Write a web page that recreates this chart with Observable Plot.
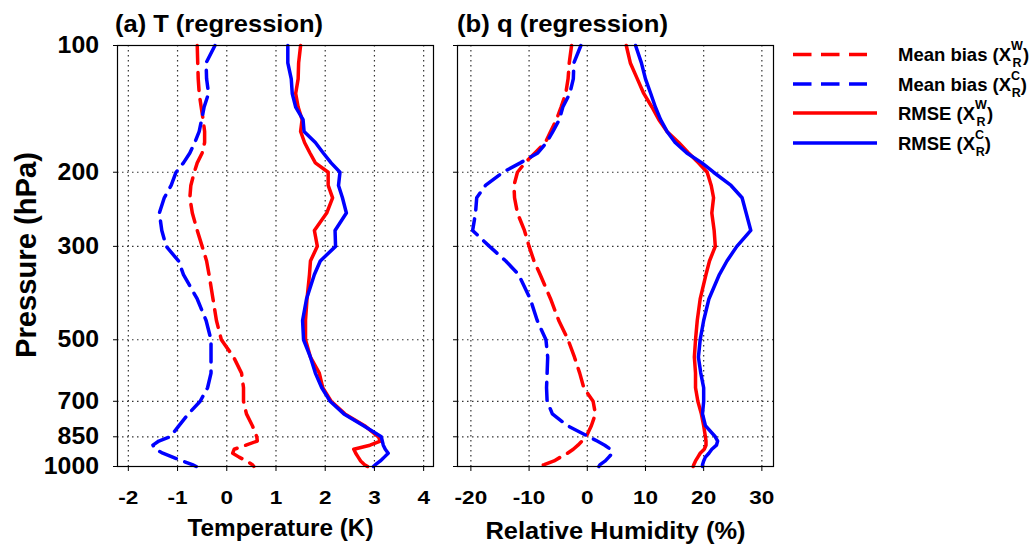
<!DOCTYPE html>
<html><head><meta charset="utf-8">
<script src="https://cdn.jsdelivr.net/npm/d3@7"></script>
<script src="https://cdn.jsdelivr.net/npm/@observablehq/plot@0.6"></script>
<style>
body{margin:0;background:#fff;}
#wrap{position:relative;width:1030px;height:553px;overflow:hidden;background:#fff;}
#wrap > svg{position:absolute;top:0;}
#overlay{position:absolute;left:0;top:0;}
</style></head>
<body><div id="wrap"></div>
<script>
// Pressure levels (hPa)
const pressure = [100,110,120,130,140,150,160,170,180,190,200,215,230,250,275,300,325,350,400,450,500,550,600,650,700,750,800,850,870,890,910,930,950,970,990,1000];

// (a) Temperature (K)
const tBiasW = [-0.60,-0.59,-0.58,-0.56,-0.52,-0.48,-0.45,-0.45,-0.50,-0.60,-0.66,-0.73,-0.75,-0.70,-0.60,-0.50,-0.41,-0.36,-0.28,-0.21,-0.11,0.14,0.30,0.34,0.34,0.40,0.52,0.61,0.62,0.39,0.15,0.12,0.25,0.40,0.52,0.55];
const tBiasC = [-0.24,-0.42,-0.41,-0.37,-0.46,-0.51,-0.56,-0.65,-0.75,-0.88,-1.03,-1.13,-1.27,-1.37,-1.32,-1.23,-0.98,-0.88,-0.60,-0.42,-0.32,-0.32,-0.32,-0.39,-0.54,-0.78,-0.97,-1.15,-1.38,-1.50,-1.45,-1.30,-1.10,-0.90,-0.70,-0.62];
const tRmseW = [1.50,1.46,1.45,1.40,1.45,1.53,1.50,1.58,1.69,1.80,2.06,2.06,2.15,2.03,1.78,1.84,1.70,1.68,1.63,1.60,1.60,1.70,1.88,1.95,2.12,2.40,2.80,3.08,3.12,2.91,2.58,2.62,2.67,2.72,2.80,2.86];
const tRmseC = [1.24,1.24,1.31,1.33,1.40,1.55,1.57,1.80,1.96,2.12,2.30,2.27,2.35,2.43,2.20,2.21,1.90,1.78,1.62,1.54,1.56,1.70,1.80,1.93,2.10,2.38,2.78,3.14,3.16,3.18,3.22,3.28,3.20,3.12,3.02,2.98];

// (b) Relative humidity (%)
const qBiasW = [-2.7,-3.1,-3.3,-3.7,-4.5,-5.3,-6.3,-7.2,-9.0,-10.7,-12.0,-12.6,-12.5,-12.0,-10.8,-10.0,-9.15,-8.1,-6.3,-4.9,-3.3,-2.2,-1.3,-0.6,1.0,1.4,0.7,-0.2,-0.9,-1.6,-2.4,-3.4,-4.6,-5.7,-7.4,-8.3];
const qBiasC = [-1.1,-2.3,-2.4,-3.0,-4.2,-4.8,-5.9,-7.0,-8.5,-11.5,-14.5,-17.5,-19.0,-19.2,-19.7,-16.8,-14.0,-11.8,-9.8,-8.6,-7.1,-6.8,-6.9,-7.0,-6.9,-6.0,-3.4,0.3,1.7,3.0,4.0,4.3,3.7,3.1,2.2,2.0];
const qRmseW = [6.7,7.4,8.6,9.7,11.1,12.3,13.7,15.7,17.4,19.1,20.6,21.3,21.7,21.4,21.8,22.0,21.0,20.4,19.4,18.9,18.6,18.4,18.6,18.6,19.0,19.6,20.0,20.3,20.4,20.4,20.1,19.4,19.0,18.6,18.3,18.2];
const qRmseC = [8.3,9.3,10.0,10.9,11.7,12.6,13.7,15.1,17.1,19.7,21.7,24.7,26.6,27.3,28.1,25.7,24.0,22.7,20.9,20.0,19.4,19.1,19.5,20.0,20.0,19.8,20.3,22.0,22.4,22.2,21.4,20.9,20.3,20.0,19.8,19.8];

// Axis ticks
const yTicks = [100,200,300,500,700,850,1000];
const yGrid = [200,300,500,700,850];
const tTicks = [-2,-1,0,1,2,3,4];
const qTicks = [-20,-10,0,10,20,30];

const RED = "#ff0000", BLUE = "#0000ff";
const FONT = "'Liberation Sans', Arial, Helvetica, sans-serif";

function rows(vals){ return pressure.map((p,i)=>({p, v: vals[i]})); }

function panel({xDomain, xTicks, series, yLabels, marginLeft, width, left}){
  const svg = Plot.plot({
    width, height: 553, marginLeft, marginRight: 12, marginTop: 45, marginBottom: 87,
    style: {fontFamily: FONT, fontWeight: "bold", fontSize: "18.5px", background: "transparent", color: "#000", overflow: "visible"},
    x: {domain: xDomain},
    y: {type: "log", domain: [100, 1000], reverse: true},
    marks: [
      Plot.gridX(xTicks, {stroke: "#333", strokeOpacity: 1, strokeDasharray: "1.5,3.5", strokeWidth: 1.2}),
      Plot.gridY(yGrid, {stroke: "#333", strokeOpacity: 1, strokeDasharray: "1.5,3.5", strokeWidth: 1.2}),
      ...series.map(s => Plot.line(rows(s.vals), {x: "v", y: "p", stroke: s.color, strokeWidth: 3.5, strokeDasharray: s.dash, strokeLinejoin: "round"})),
      Plot.frame({stroke: "#000", strokeWidth: 1.2}),
      Plot.axisX(xTicks, {tickSize: 5, tickPadding: 19, label: null, tickFormat: d => String(d)}),
      Plot.axisY(yTicks, {tickSize: 4, tickPadding: 14.5, fontSize: 23, label: null, tickFormat: yLabels ? d => String(d) : () => ""})
    ]
  });
  svg.style.left = left + "px";
  // widen tick labels like the reference's broad lettering
  svg.querySelectorAll('[aria-label="x-axis tick label"] text').forEach(t =>
    t.setAttribute("transform", (t.getAttribute("transform") || "") + " scale(1.22,1)"));
  svg.querySelectorAll('[aria-label="y-axis tick label"] text').forEach(t =>
    t.setAttribute("transform", (t.getAttribute("transform") || "") + " scale(1.08,1)"));
  return svg;
}

const wrap = document.getElementById("wrap");
wrap.appendChild(panel({
  xDomain: [-2.22, 4.2], xTicks: tTicks, yLabels: true, marginLeft: 117, width: 445, left: 0,
  series: [
    {vals: tBiasW, color: RED, dash: "18,9"},
    {vals: tBiasC, color: BLUE, dash: "18,9"},
    {vals: tRmseW, color: RED, dash: null},
    {vals: tRmseC, color: BLUE, dash: null}
  ]
}));
wrap.appendChild(panel({
  xDomain: [-22.3, 32], xTicks: qTicks, yLabels: false, marginLeft: 17, width: 345, left: 440,
  series: [
    {vals: qBiasW, color: RED, dash: "18,9"},
    {vals: qBiasC, color: BLUE, dash: "18,9"},
    {vals: qRmseW, color: RED, dash: null},
    {vals: qRmseC, color: BLUE, dash: null}
  ]
}));

// Titles, axis labels and legend
const legendItems = [
  {name: "Mean bias", sup: "W", color: RED, dash: "18.5,9.5", x2: 867},
  {name: "Mean bias", sup: "C", color: BLUE, dash: "18.5,9.5", x2: 867},
  {name: "RMSE", sup: "W", color: RED, dash: null, x2: 877},
  {name: "RMSE", sup: "C", color: BLUE, dash: null, x2: 877}
];
const legendY = [54.5, 84, 113, 143];
const ov = d3.select(wrap).append("svg").attr("id","overlay").attr("width",1030).attr("height",553)
  .style("font-family", FONT).style("font-weight","bold");
function label(txt, x, y, size, len, anchor, rot){
  const t = ov.append("text").attr("font-size", size).attr("text-anchor", anchor || "start")
    .attr("textLength", len).attr("lengthAdjust", "spacingAndGlyphs").text(txt);
  if (rot) t.attr("transform", `translate(${x},${y}) rotate(-90)`);
  else t.attr("x", x).attr("y", y);
  return t;
}
label("(a) T (regression)", 115, 31.5, 24, 208);
label("(b) q (regression)", 457, 31.5, 24, 211);
label("Temperature (K)", 280.5, 536, 24, 186, "middle");
label("Relative Humidity (%)", 615.5, 538.5, 24.5, 260, "middle");
label("Pressure (hPa)", 36, 255, 29, 206, "middle", true);
legendItems.forEach((it,i)=>{
  const y = legendY[i];
  const ln = ov.append("line").attr("x1",793).attr("x2",it.x2).attr("y1",y).attr("y2",y)
    .attr("stroke",it.color).attr("stroke-width",3.5);
  if (it.dash) ln.attr("stroke-dasharray", it.dash);
  const t = ov.append("text").attr("x",898).attr("y",y+6.5).attr("font-size",18.5);
  t.append("tspan").text(it.name + " (X");
  t.append("tspan").attr("font-size",12.5).attr("dy",-11).text(it.sup);
  t.append("tspan").attr("font-size",12.5).attr("dx", it.sup === "W" ? -10.5 : -8.5).attr("dy",17).text("R");
  t.append("tspan").attr("dx", it.sup === "W" ? 1.5 : 0).attr("dy",-6).text(")");
});
</script>
</body></html>
